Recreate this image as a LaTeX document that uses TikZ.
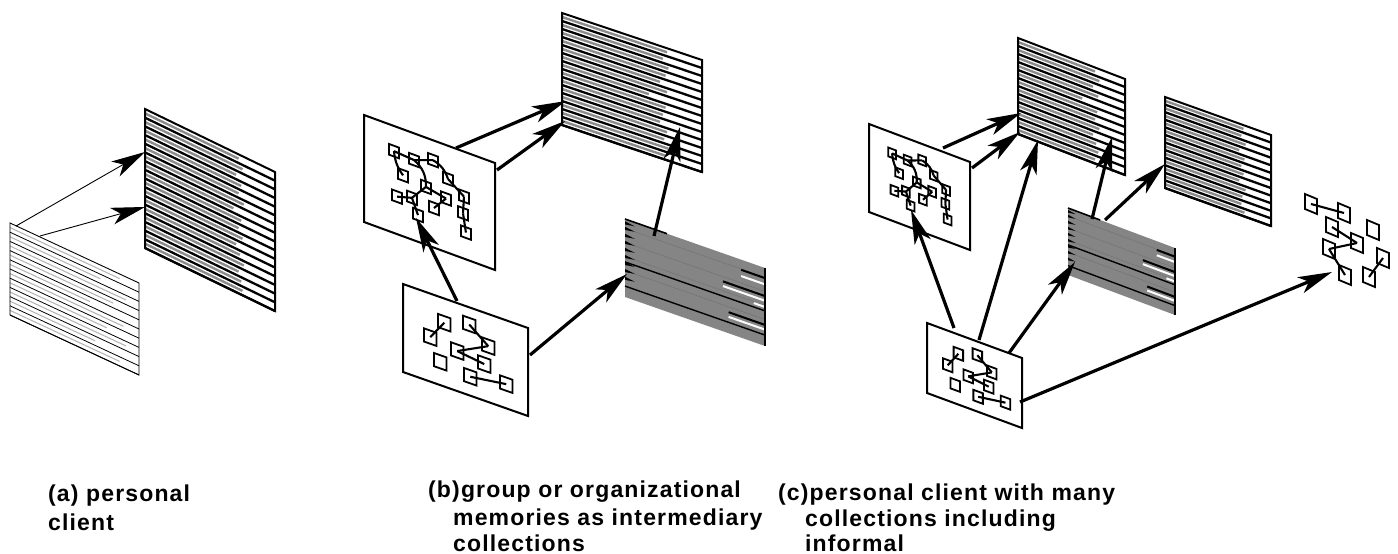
\documentclass[tikz,border=0pt]{standalone}
\usepackage{fontspec}
\setmainfont{Liberation Sans}
\newfontfamily\capfont[LetterSpace=5]{Liberation Sans}
\usetikzlibrary{arrows.meta}

\definecolor{barfill}{gray}{0.55}
\definecolor{pale}{gray}{0.70}
\definecolor{slab}{gray}{0.52}

\tikzset{
  >={Stealth[length=34pt,width=17pt,inset=9pt]},
  flow/.style={line width=3.2pt, ->},
  fineflow/.style={line width=0.9pt, ->},
  sheetedge/.style={line width=2pt, line join=miter},
  thinedge/.style={line width=0.9pt, line join=miter},
  inkbar/.style={line width=2.3pt},
  greybar/.style={line width=2.4pt, color=barfill},
  thinbar/.style={line width=0.8pt},
  palebar/.style={line width=1pt, color=pale},
  box/.style={line width=1.8pt, line join=miter},
  link/.style={line width=2.1pt},
  caption/.style={anchor=base west, inner sep=0pt,
    font=\capfont\bfseries\fontsize{23}{27}\selectfont}
}

% striped document sheet: heavy rules with grey bars between
\newcommand\stripesheet[2]{%
  \foreach \len [count=\k from 0] in {#2}
    \draw[greybar] (0,{(\k+0.5)/#1}) -- (\len,{(\k+0.5)/#1});
  \foreach \k in {1,...,#1}
    \draw[inkbar] (0,{\k/#1}) -- (1,{\k/#1});
  \draw[sheetedge] (0,0) -- (1,0) -- (1,1) -- (0,1) -- cycle;
}

% light sheet: thin rules with pale bars between
\newcommand\ruledsheet[2]{%
  \foreach \len [count=\k from 0] in {#2}
    \draw[palebar] (0,{(\k+0.5)/#1}) -- (\len,{(\k+0.5)/#1});
  \foreach \k in {1,...,#1}
    \draw[thinbar] (0,{\k/#1}) -- (1,{\k/#1});
  \draw[thinedge] (0,0) -- (1,0) -- (1,1) -- (0,1) -- cycle;
}

% shaded sheet with a few rules showing through
\newcommand\slabsheet{%
  \fill[slab] (0,0) -- (1,0) -- (1,1) -- (0,1) -- cycle;
  \foreach \k in {0.12,0.3,0.48,0.66} \draw[line width=0.5pt, black!55] (0,\k) -- (1,\k);
  \foreach \k in {0.55,0.86} \draw[line width=1.4pt] (0,\k) -- (1,\k);
  \foreach \k in {0.05,0.12,0.21,0.3,0.39,0.48,0.57,0.66,0.76}
    \fill (0,\k-0.02) -- (0.07,\k) -- (0,\k+0.02) -- cycle;
  \draw[line width=1.6pt] (0,0) -- (0.3,0);
  \draw[line width=2pt] (0.83,0.13) -- (1,0.13) (0.70,0.36) -- (1,0.36) (0.74,0.73) -- (1,0.73);
  \draw[line width=2pt, white] (0.83,0.21) -- (1,0.21) (0.70,0.42) -- (1,0.42)
    (0.92,0.50) -- (1,0.50) (0.74,0.79) -- (1,0.79);
  \draw[line width=2.4pt] (1,0) -- (1,1);
}

% sheet frame
\newcommand\plainsheet{%
  \draw[sheetedge, fill=white] (0,0) -- (1,0) -- (1,1) -- (0,1) -- cycle;
}

% hierarchy of linked items on a sheet
\newcommand\treegraph[1]{%
  \foreach \n/\u/\v in {1/0.191/0.185, 2/0.344/0.20, 3/0.489/0.136, 4/0.26/0.38,
      5/0.603/0.26, 6/0.435/0.41, 7/0.214/0.60, 8/0.328/0.56, 9/0.588/0.45,
      10/0.725/0.37, 11/0.496/0.58, 12/0.374/0.70, 13/0.718/0.53, 14/0.74/0.70} {
    \draw[box] (\u,\v) -- ++(0.076,0) -- ++(0,0.1) -- ++(-0.076,0) -- cycle;
    \coordinate (#1-\n) at ({\u+0.038},{\v+0.05});
  }
  \draw[link] (#1-1) -- (#1-2);
  \draw[link] (#1-1) to[bend right=15] (#1-4);
  \draw[link] (#1-2) -- (#1-3);
  \draw[link] (#1-2) to[bend left=25] (#1-6);
  \draw[link] (#1-3) to[bend left=20] (#1-5);
  \draw[link] (#1-6) -- (#1-8);
  \draw[link] (#1-6) -- (#1-9);
  \draw[link] (#1-5) -- (#1-10);
  \draw[link] (#1-8) -- (#1-12);
  \draw[link] (#1-9) -- (#1-11);
  \draw[link] (#1-10) -- (#1-13);
  \draw[link] (#1-13) -- (#1-14);
  \draw[link] (#1-7) -- (#1-8);
}

% loose set of linked items on a sheet
\newcommand\loosegraph[1]{%
  \foreach \n/\u/\v in {1/0.28/0.20, 2/0.48/0.12, 3/0.168/0.42, 4/0.632/0.29,
      5/0.384/0.47, 6/0.248/0.66, 7/0.60/0.51, 8/0.488/0.71, 9/0.776/0.65} {
    \draw[box] (\u,\v) -- ++(0.1,0) -- ++(0,0.15) -- ++(-0.1,0) -- cycle;
    \coordinate (#1-\n) at ({\u+0.05},{\v+0.075});
  }
  \draw[link] (#1-1) -- (#1-3);
  \draw[link] (#1-2) -- (#1-4);
  \draw[link] (#1-5) -- (#1-4);
  \draw[link] (#1-5) -- (#1-7);
  \draw[link] (#1-8) -- (#1-9);
}

\begin{document}
\begin{tikzpicture}[x=1pt,y=-1pt]
\useasboundingbox (0,0) rectangle (1398,554);

% ---------- (a) personal client ----------
\begin{scope}[shift={(10pt,-223pt)}, x={(129pt,-60pt)}, y={(0pt,-92pt)}]
  \ruledsheet{10}{0.85,0.7,0.9,0.8,0.62,0.88,0.75,0.9,0.66,0.85}
\end{scope}
\begin{scope}[shift={(145pt,-109pt)}, x={(130pt,-63pt)}, y={(0pt,-139pt)}]
  \stripesheet{16}{0.72,0.75,0.70,0.74,0.72,0.76,0.68,0.74,0.72,0.75,0.70,0.73,0.76,0.72,0.74,0.75}
\end{scope}
\coordinate (a-s1) at (16,226);  \coordinate (a-t1) at (145,152);
\coordinate (a-s2) at (40,236);  \coordinate (a-t2) at (145,207);
\draw[fineflow] (a-s1) -- (a-t1);
\draw[fineflow] (a-s2) -- (a-t2);

% ---------- (b) group or organizational memories ----------
\begin{scope}[shift={(562pt,-13pt)}, x={(140pt,-47pt)}, y={(0pt,-112pt)}]
  \stripesheet{14}{0.75,0.72,0.76,0.74,0.70,0.75,0.62,0.74,0.72,0.70,0.75,0.73,0.76,0.74}
\end{scope}
\begin{scope}[shift={(364pt,-115pt)}, x={(131pt,-48pt)}, y={(0pt,-107pt)}]
  \plainsheet
  \treegraph{bt}
\end{scope}
\begin{scope}[shift={(403pt,-284pt)}, x={(125pt,-44pt)}, y={(0pt,-88pt)}]
  \plainsheet
  \loosegraph{bl}
\end{scope}
\begin{scope}[shift={(625pt,-219pt)}, x={(140pt,-49pt)}, y={(0pt,-78pt)}]
  \slabsheet
\end{scope}
\coordinate (b-s1) at (457,301); \coordinate (b-t1) at (416,218);
\coordinate (b-s2) at (456,148); \coordinate (b-t2) at (566,101);
\coordinate (b-s3) at (497,170); \coordinate (b-t3) at (565,121);
\coordinate (b-s4) at (530,355); \coordinate (b-t4) at (627,274);
\coordinate (b-s5) at (654,236); \coordinate (b-t5) at (680,127);
\draw[flow] (b-s1) -- (b-t1);
\draw[flow] (b-s2) -- (b-t2);
\draw[flow] (b-s3) -- (b-t3);
\draw[flow] (b-s4) -- (b-t4);
\draw[flow] (b-s5) -- (b-t5);

% ---------- (c) personal client with many collections ----------
\begin{scope}[shift={(1018pt,-38pt)}, x={(107pt,-41pt)}, y={(0pt,-96pt)}]
  \stripesheet{12}{0.72,0.76,0.70,0.75,0.60,0.74,0.72,0.76,0.70,0.73,0.75,0.72}
\end{scope}
\begin{scope}[shift={(1165pt,-97pt)}, x={(106pt,-38pt)}, y={(0pt,-91pt)}]
  \stripesheet{12}{0.74,0.72,0.76,0.70,0.75,0.72,0.74,0.70,0.76,0.73,0.72,0.75}
\end{scope}
\begin{scope}[shift={(869pt,-124pt)}, x={(101pt,-38pt)}, y={(0pt,-88pt)}]
  \plainsheet
  \treegraph{ct}
\end{scope}
\begin{scope}[shift={(927pt,-323pt)}, x={(95pt,-35pt)}, y={(0pt,-70pt)}]
  \plainsheet
  \loosegraph{cl}
\end{scope}
\begin{scope}[shift={(1068pt,-208pt)}, x={(107pt,-40pt)}, y={(0pt,-67pt)}]
  \slabsheet
\end{scope}

% informal items, no sheet behind them
\foreach \n/\x/\y in {1/1305/194, 2/1338/203, 3/1326/217, 4/1367/220, 5/1351/233,
    6/1323/239, 7/1377/248, 8/1339/265, 9/1363/267} {
  \draw[box] (\x,\y) -- ++(12,5) -- ++(0,15) -- ++(-12,-5) -- cycle;
  \coordinate (ci-\n) at (\x+6,\y+10);
}
\draw[link] (ci-1) -- (ci-2);
\draw[link] (ci-3) -- (ci-5);
\draw[link] (ci-6) -- (ci-5);
\draw[link] (ci-6) -- (ci-8);
\draw[link] (ci-9) -- (ci-7);

\coordinate (c-s1) at (943,148);  \coordinate (c-t1) at (1021,113);
\coordinate (c-s2) at (972,168);  \coordinate (c-t2) at (1020,132);
\coordinate (c-s3) at (954,328);  \coordinate (c-t3) at (911,210);
\coordinate (c-s4) at (979,340);  \coordinate (c-t4) at (1038,140);
\coordinate (c-s5) at (1009,353); \coordinate (c-t5) at (1075,262);
\coordinate (c-s6) at (1020,402); \coordinate (c-t6) at (1332,272);
\coordinate (c-s7) at (1092,219); \coordinate (c-t7) at (1112,137);
\coordinate (c-s8) at (1105,220); \coordinate (c-t8) at (1165,164);
\foreach \k in {1,...,8} \draw[flow] (c-s\k) -- (c-t\k);

% ---------- captions ----------
\node[caption] (capa1) at (48,501) {(a) personal};
\node[caption] (capa2) at (48,530) {client};
\node[caption] (capb1) at (428,497) {(b)group or organizational};
\node[caption] (capb2) at (453,525) {memories as intermediary};
\node[caption] (capb3) at (453,551) {collections};
\node[caption] (capc1) at (778,500) {(c)personal client with many};
\node[caption] (capc2) at (805,526) {collections including};
\node[caption] (capc3) at (805,551) {informal};
\end{tikzpicture}
\end{document}
